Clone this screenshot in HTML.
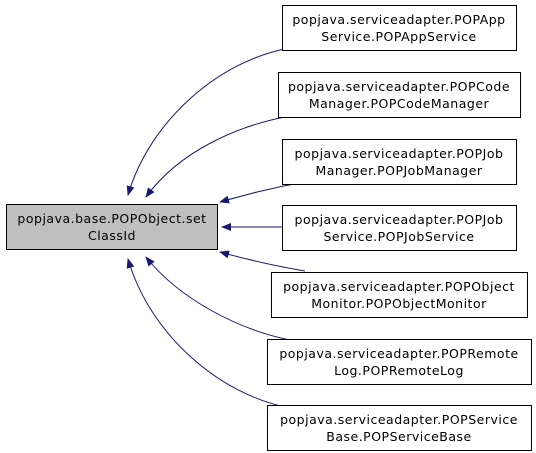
<!DOCTYPE html>
<html><head><style>body{margin:0;background:#fff}svg{display:block}</style></head><body>
<svg width="536" height="453" viewBox="0 0 536 453" xmlns="http://www.w3.org/2000/svg" font-family="'DejaVu Sans','Liberation Sans',sans-serif" font-size="12.5" letter-spacing="0.5">
<defs><marker id="a" markerWidth="10" markerHeight="8" refX="1" refY="4" orient="auto" markerUnits="userSpaceOnUse"><path d="M10,0 L0,4 L10,8 z" fill="#191970"/></marker></defs>
<g fill="none" stroke="#191970" stroke-width="1">
<path d="M128,195 C150,120 220,60 290,48" marker-start="url(#a)"/>
<path d="M146,197 C180,150 240,125 290,116" marker-start="url(#a)"/>
<path d="M220,202 C245,195 270,188 305,182" marker-start="url(#a)"/>
<path d="M222,227 L282,227" marker-start="url(#a)"/>
<path d="M220,252 C245,259 270,265 305,271" marker-start="url(#a)"/>
<path d="M146,257 C180,300 240,330 290,340" marker-start="url(#a)"/>
<path d="M128,259 C150,335 220,395 290,408" marker-start="url(#a)"/>
</g>
<rect x="6.5" y="204.5" width="211" height="45" fill="#bfbfbf" stroke="#000"/>
<text x="112" y="223" text-anchor="middle">popjava.base.POPObject.set</text>
<text x="112" y="240" text-anchor="middle">ClassId</text>
<g fill="#fff" stroke="#000">
<rect x="282.5" y="5.5" width="234" height="45"/>
<rect x="278.5" y="72.5" width="242" height="45"/>
<rect x="282.5" y="139.5" width="234" height="45"/>
<rect x="282.5" y="205.5" width="234" height="45"/>
<rect x="271.5" y="272.5" width="256" height="45"/>
<rect x="267.5" y="339.5" width="264" height="45"/>
<rect x="267.5" y="405.5" width="264" height="45"/>
</g>
<g text-anchor="middle">
<text x="399" y="24">popjava.serviceadapter.POPApp</text><text x="399" y="41">Service.POPAppService</text>
<text x="399" y="91">popjava.serviceadapter.POPCode</text><text x="399" y="108">Manager.POPCodeManager</text>
<text x="399" y="158">popjava.serviceadapter.POPJob</text><text x="399" y="175">Manager.POPJobManager</text>
<text x="399" y="224">popjava.serviceadapter.POPJob</text><text x="399" y="241">Service.POPJobService</text>
<text x="399" y="291">popjava.serviceadapter.POPObject</text><text x="399" y="308">Monitor.POPObjectMonitor</text>
<text x="399" y="358">popjava.serviceadapter.POPRemote</text><text x="399" y="375">Log.POPRemoteLog</text>
<text x="399" y="424">popjava.serviceadapter.POPService</text><text x="399" y="441">Base.POPServiceBase</text>
</g>
</svg>
</body></html>
